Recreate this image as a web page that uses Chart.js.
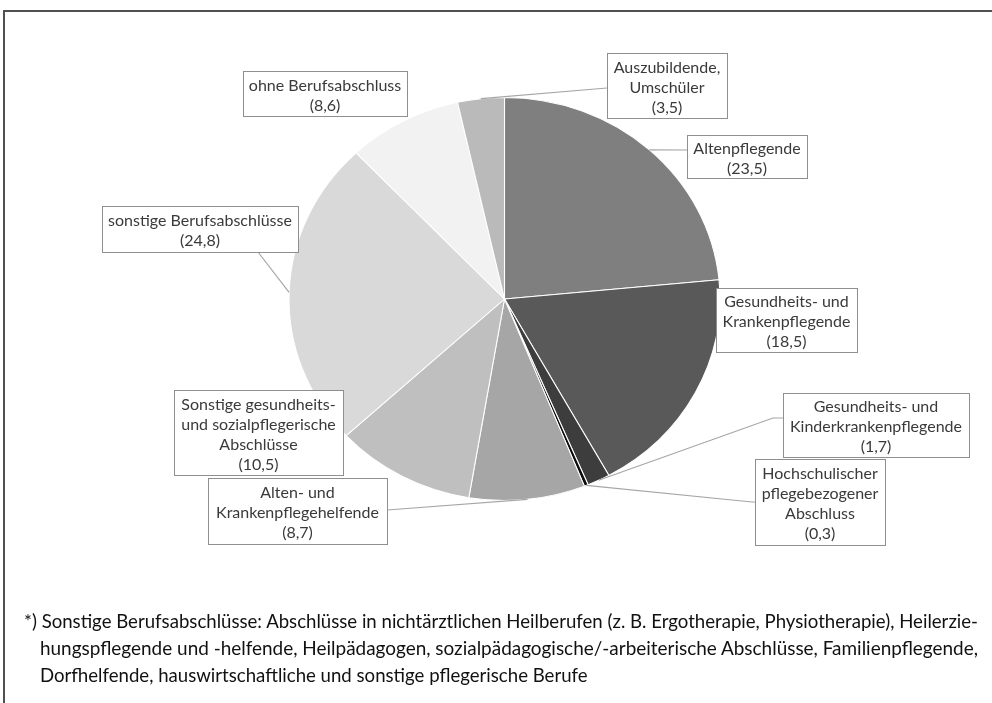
<!DOCTYPE html>
<html lang="de">
<head>
<meta charset="utf-8">
<title>Berufsabschlüsse in der Pflege</title>
<script src="https://cdn.jsdelivr.net/npm/chart.js@4.4.1/dist/chart.umd.min.js"></script>
<style>
    html, body {
        margin: 0;
        padding: 0;
        background: #ffffff;
    }
    .page {
        position: relative;
        width: 992px;
        height: 703px;
        overflow: hidden;
    }
    .frame {
        position: absolute;
        left: 3px;
        top: 10px;
        width: 1200px;
        height: 800px;
        border-top: 2px solid #505050;
        border-left: 2px solid #505050;
    }
    #chart {
        position: absolute;
        left: 0;
        top: 0;
    }
    .note {
        position: absolute;
        top: 607px;
        left: 0;
        font-family: Lato, "Open Sans", sans-serif;
        font-size: 19px;
        line-height: 27px;
        color: #111111;
    }
    .note span {
        position: absolute;
        white-space: nowrap;
        transform-origin: 0 0;
    }
</style>
</head>
<body>
<div class="page">
    <div class="frame"></div>
    <canvas id="chart" width="992" height="703"></canvas>
    <div class="note">
        <span id="note1" style="left:24px; top:0px;">*) Sonstige Berufsabschlüsse: Abschlüsse in nichtärztlichen Heilberufen (z. B. Ergotherapie, Physiotherapie), Heilerzie-</span>
        <span id="note2" style="left:40px; top:27px;">hungspflegende und -helfende, Heilpädagogen, sozialpädagogische/-arbeiterische Abschlüsse, Familienpflegende,</span>
        <span id="note3" style="left:40px; top:54px;">Dorfhelfende, hauswirtschaftliche und sonstige pflegerische Berufe</span>
    </div>
</div>
<script>
    // Anteile der Beschäftigten nach Berufsabschluss (in %), im Uhrzeigersinn ab 12 Uhr
    const categories = [
        ['Altenpflegende'],
        ['Gesundheits- und', 'Krankenpflegende'],
        ['Gesundheits- und', 'Kinderkrankenpflegende'],
        ['Hochschulischer', 'pflegebezogener', 'Abschluss'],
        ['Alten- und', 'Krankenpflegehelfende'],
        ['Sonstige gesundheits-', 'und sozialpflegerische', 'Abschlüsse'],
        ['sonstige Berufsabschlüsse'],
        ['ohne Berufsabschluss'],
        ['Auszubildende,', 'Umschüler']
    ];
    const shares = [23.5, 18.5, 1.7, 0.3, 8.7, 10.5, 24.8, 8.6, 3.5];
    const sliceColors = ['#7f7f7f', '#595959', '#3d3d3d', '#0d0d0d', '#a6a6a6', '#bfbfbf', '#d9d9d9', '#f2f2f2', '#bababa'];

    // Lage der Beschriftungskästen: [x, y, Breite, Höhe] und Knickpunkte der Führungslinien
    const labelBoxes = [
        { box: [687, 135, 120, 43], path: [[687, 150]] },
        { box: [716, 288, 141, 64], path: null },
        { box: [783, 393, 186, 64], path: [[773, 418], [783, 418]] },
        { box: [755, 459, 130, 86], path: [[752, 502], [755, 502]] },
        { box: [208, 478, 179, 66], path: [[387, 510]] },
        { box: [174, 390, 169, 85], path: null },
        { box: [102, 206, 196, 46], path: [[258, 252]] },
        { box: [243, 71, 164, 45], path: null },
        { box: [607, 53, 120, 65], path: [[607, 88]] }
    ];

    const stretchX = 215.5 / 201.5;

    function formatShare(value) {
        return '(' + value.toLocaleString('de-DE', { minimumFractionDigits: 1, maximumFractionDigits: 1 }) + ')';
    }

    function pieCenter(chart) {
        const arc = chart.getDatasetMeta(0).data[0];
        return { x: arc.x, y: arc.y, r: arc.outerRadius };
    }

    const ellipsePlugin = {
        id: 'ellipse',
        beforeDatasetsDraw(chart) {
            const c = pieCenter(chart);
            const ctx = chart.ctx;
            ctx.save();
            ctx.translate(c.x, c.y);
            ctx.scale(stretchX, 1);
            ctx.translate(-c.x, -c.y);
        },
        afterDatasetsDraw(chart) {
            chart.ctx.restore();
        }
    };

    const boxLabelPlugin = {
        id: 'boxLabels',
        afterDraw(chart) {
            const ctx = chart.ctx;
            const meta = chart.getDatasetMeta(0);
            const c = pieCenter(chart);
            ctx.save();

            meta.data.forEach((arc, i) => {
                const layout = labelBoxes[i];
                if (layout.path) {
                    const mid = (arc.startAngle + arc.endAngle) / 2;
                    ctx.beginPath();
                    ctx.moveTo(c.x + stretchX * c.r * Math.cos(mid), c.y + c.r * Math.sin(mid));
                    layout.path.forEach((p) => ctx.lineTo(p[0], p[1]));
                    ctx.strokeStyle = '#a6a6a6';
                    ctx.lineWidth = 1.2;
                    ctx.stroke();
                }
            });

            meta.data.forEach((arc, i) => {
                const [x, y, w, h] = labelBoxes[i].box;
                ctx.fillStyle = '#ffffff';
                ctx.fillRect(x, y, w, h);
                ctx.strokeStyle = '#8f8f8f';
                ctx.lineWidth = 1;
                ctx.strokeRect(x + 0.5, y + 0.5, w, h);

                const lines = categories[i].concat([formatShare(shares[i])]);
                const lineHeight = 20;
                const top = y + h / 2 + 2 - (lines.length - 1) * lineHeight / 2;
                ctx.fillStyle = '#3a3a3a';
                ctx.font = '16px Lato, "Open Sans", sans-serif';
                ctx.textAlign = 'center';
                ctx.textBaseline = 'middle';
                lines.forEach((line, k) => {
                    ctx.fillText(line, x + w / 2, top + k * lineHeight, w - 6);
                });
            });

            ctx.restore();
        }
    };

    new Chart(document.getElementById('chart'), {
        type: 'pie',
        data: {
            labels: categories,
            datasets: [{
                data: shares,
                backgroundColor: sliceColors,
                borderColor: '#ffffff',
                borderWidth: 1
            }]
        },
        options: {
            responsive: false,
            animation: false,
            events: [],
            layout: {
                padding: { top: 97, bottom: 202, left: 302, right: 285 }
            },
            plugins: {
                legend: { display: false },
                tooltip: { enabled: false }
            }
        },
        plugins: [ellipsePlugin, boxLabelPlugin]
    });

    // Fußnote auf die Breite der Vorlage bringen
    function fitLine(id, targetWidth) {
        const el = document.getElementById(id);
        const scale = targetWidth / el.getBoundingClientRect().width;
        el.style.transform = 'scaleX(' + scale + ')';
        return scale;
    }

    const noteScale = fitLine('note1', 954);
    fitLine('note2', 938);
    document.getElementById('note3').style.transform = 'scaleX(' + noteScale + ')';
</script>
</body>
</html>
